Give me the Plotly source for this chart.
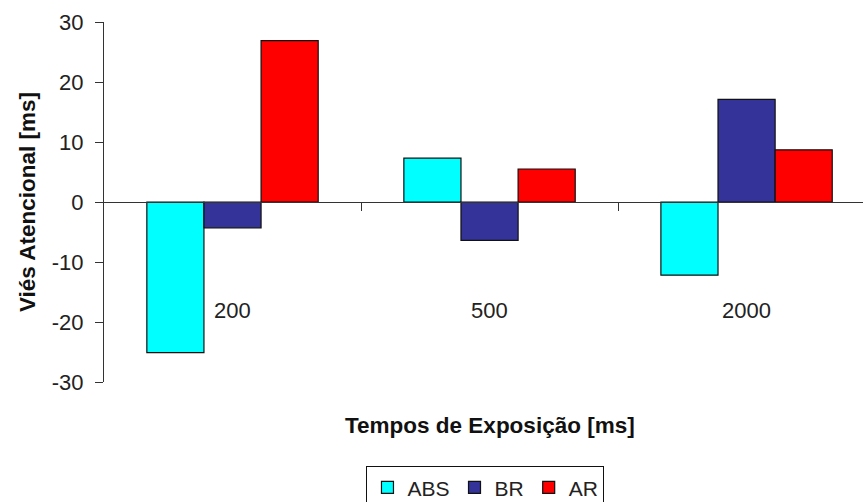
import plotly.graph_objects as go

# Exposure times (ms) and attentional bias (ms) per group
tempos = ["200", "500", "2000"]
abs_vals = [-25.1, 7.3, -12.2]
br_vals = [-4.3, -6.4, 17.1]
ar_vals = [26.9, 5.5, 8.7]
y_ticks = [-30, -20, -10, 0, 10, 20, 30]

series = [
    ("ABS", abs_vals, "#00FFFF"),
    ("BR", br_vals, "#333399"),
    ("AR", ar_vals, "#FF0000"),
]

x_idx = list(range(len(tempos)))

fig = go.Figure()
for name, vals, color in series:
    fig.add_trace(go.Bar(
        x=x_idx, y=vals, name=name,
        marker=dict(color=color, line=dict(color="#111111", width=1.2)),
    ))

font_family = "Liberation Sans, Arial, sans-serif"

# category labels sit below the zero line, inside the plot
for i, t in zip(x_idx, tempos):
    fig.add_annotation(x=i, y=-18, xref="x", yref="y", text=t, showarrow=False,
                       font=dict(size=22, color="#222222", family=font_family))

fig.add_annotation(x=1, y=-0.12, xref="x", yref="paper", text="<b>Tempos de Exposição [ms]</b>",
                   showarrow=False, yanchor="middle",
                   font=dict(size=22.5, color="#111111", family=font_family))

fig.update_layout(
    width=863, height=502,
    margin=dict(l=104, r=0, t=22, b=120, autoexpand=False),
    plot_bgcolor="white", paper_bgcolor="white",
    barmode="group", bargap=1.5 / 4.5, bargroupgap=0,
    font=dict(family=font_family, size=22, color="#222222"),
    showlegend=True,
    legend=dict(
        orientation="h", x=0.5026, xanchor="center", y=-0.234, yanchor="top",
        bordercolor="#111111", borderwidth=1, font=dict(size=21, color="#222222"),
        itemwidth=30, traceorder="normal", tracegroupgap=0,
    ),
    xaxis=dict(
        range=[-0.5, 2.453], anchor="free", position=0.5,
        showline=True, linecolor="#333333", linewidth=1.2,
        tickmode="array", tickvals=[0.5, 1.5], ticks="outside", ticklen=8,
        tickcolor="#333333", tickwidth=1.2, showticklabels=False,
        showgrid=False, zeroline=False,
    ),
    yaxis=dict(
        range=[-30, 30], tickmode="array", tickvals=y_ticks,
        ticktext=[str(v) for v in y_ticks],
        ticks="outside", ticklen=8, ticklabelstandoff=7,
        tickcolor="#333333", tickwidth=1.2,
        showline=True, linecolor="#333333", linewidth=1.2,
        showgrid=False, zeroline=False,
        tickfont=dict(size=22, color="#222222"),
        title=dict(text="<b>Viés Atencional [ms]</b>", font=dict(size=22.5, color="#111111"), standoff=9),
    ),
)

fig.write_html("out.html")
